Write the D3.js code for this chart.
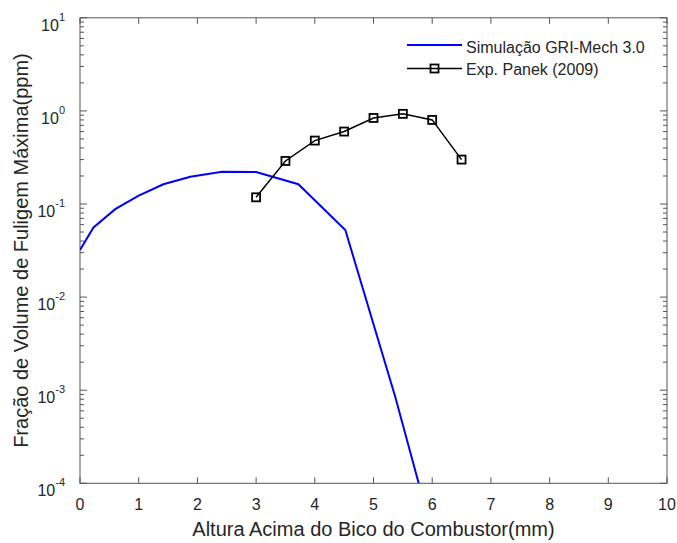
<!DOCTYPE html>
<html><head><meta charset="utf-8">
<script src="https://cdn.jsdelivr.net/npm/d3@7"></script>
<style>
html,body{margin:0;padding:0;background:#fff;}
text{font-family:"Liberation Sans",Arial,sans-serif;fill:#262626;}
</style></head>
<body><svg id="c" width="677" height="543"></svg>
<script>
// ---- data ----
const simX = [0, 0.23, 0.6, 1.0, 1.42, 1.88, 2.42, 3.0, 3.72, 4.52, 5.37, 5.77];
const simY = [0.032, 0.056, 0.088, 0.123, 0.163, 0.196, 0.222, 0.221, 0.163, 0.0526, 0.00085, 0.0001];
const expX = [3.0, 3.5, 4.0, 4.5, 5.0, 5.5, 6.0, 6.5];
const expY = [0.118, 0.29, 0.48, 0.60, 0.84, 0.93, 0.80, 0.30];
const xTicks = [0,1,2,3,4,5,6,7,8,9,10];
const yExps = [-4,-3,-2,-1,0,1];
const seriesNames = ["Simulação GRI-Mech 3.0", "Exp. Panek (2009)"];
const xLabel = "Altura Acima do Bico do Combustor(mm)";
const yLabel = "Fração de Volume de Fuligem Máxima(ppm)";

// ---- layout ----
const L = 80, R = 667, T = 17.8, B = 483.3;
const svg = d3.select("#c");
const x = d3.scaleLinear().domain([0,10]).range([L,R]);
const y = d3.scaleLog().domain([1e-4,10]).range([B,T]);
const axisCol = "#555";

svg.append("defs").append("clipPath").attr("id","clip")
  .append("rect").attr("x",L).attr("y",T).attr("width",R-L).attr("height",B-T);

// box
svg.append("rect").attr("x",L).attr("y",T).attr("width",R-L).attr("height",B-T)
  .attr("fill","none").attr("stroke",axisCol).attr("stroke-width",1);

const g = svg.append("g").attr("stroke",axisCol).attr("stroke-width",1);
// x ticks (bottom & top, inward)
xTicks.forEach(v=>{
  const px = x(v);
  g.append("line").attr("x1",px).attr("x2",px).attr("y1",B).attr("y2",B-6);
  g.append("line").attr("x1",px).attr("x2",px).attr("y1",T).attr("y2",T+6);
});
// y ticks major & minor (left & right)
yExps.forEach(e=>{
  const py = y(Math.pow(10,e));
  g.append("line").attr("x1",L).attr("x2",L+7).attr("y1",py).attr("y2",py);
  g.append("line").attr("x1",R).attr("x2",R-7).attr("y1",py).attr("y2",py);
  if (e < 1) for (let m=2;m<=9;m++){
    const pm = y(m*Math.pow(10,e));
    g.append("line").attr("x1",L).attr("x2",L+4).attr("y1",pm).attr("y2",pm);
    g.append("line").attr("x1",R).attr("x2",R-4).attr("y1",pm).attr("y2",pm);
  }
});

// x tick labels
xTicks.forEach(v=>{
  svg.append("text").attr("x",x(v)).attr("y",B+26.5).attr("text-anchor","middle")
    .attr("font-size",16).text(v);
});
// y tick labels
yExps.forEach(e=>{
  const py = y(Math.pow(10,e));
  const t = svg.append("text").attr("x",L-15).attr("y",py+13).attr("text-anchor","end").attr("font-size",16);
  t.append("tspan").text("10");
  t.append("tspan").attr("dy",-10).attr("font-size",11).text(String(e));
});

// axis labels
svg.append("text").attr("x",(L+R)/2).attr("y",536).attr("text-anchor","middle")
  .attr("font-size",20).text(xLabel);
svg.append("text").attr("transform",`translate(27.5,${(T+B)/2}) rotate(-90)`)
  .attr("text-anchor","middle").attr("font-size",20).text(yLabel);

// series
const line = d3.line().x(d=>x(d[0])).y(d=>y(d[1]));
const plot = svg.append("g").attr("clip-path","url(#clip)");
plot.append("path").datum(simX.map((v,i)=>[v,simY[i]])).attr("d",line)
  .attr("fill","none").attr("stroke","#0000ff").attr("stroke-width",2);
const expData = expX.map((v,i)=>[v,expY[i]]);
plot.append("path").datum(expData).attr("d",line)
  .attr("fill","none").attr("stroke","#000").attr("stroke-width",1.5);
plot.selectAll("rect.m").data(expData).enter().append("rect").attr("class","m")
  .attr("x",d=>x(d[0])-4).attr("y",d=>y(d[1])-4).attr("width",8).attr("height",8)
  .attr("fill","none").attr("stroke","#000").attr("stroke-width",1.8);

// legend
const lg = svg.append("g");
lg.append("line").attr("x1",407).attr("x2",462).attr("y1",45).attr("y2",45)
  .attr("stroke","#0000ff").attr("stroke-width",2);
lg.append("text").attr("x",466).attr("y",52.5).attr("font-size",16).text(seriesNames[0]);
lg.append("line").attr("x1",407).attr("x2",462).attr("y1",68.5).attr("y2",68.5)
  .attr("stroke","#000").attr("stroke-width",1.5);
lg.append("rect").attr("x",434.5-4).attr("y",68.5-4).attr("width",8).attr("height",8)
  .attr("fill","none").attr("stroke","#000").attr("stroke-width",1.8);
lg.append("text").attr("x",466).attr("y",75).attr("font-size",16).text(seriesNames[1]);
</script></body></html>
